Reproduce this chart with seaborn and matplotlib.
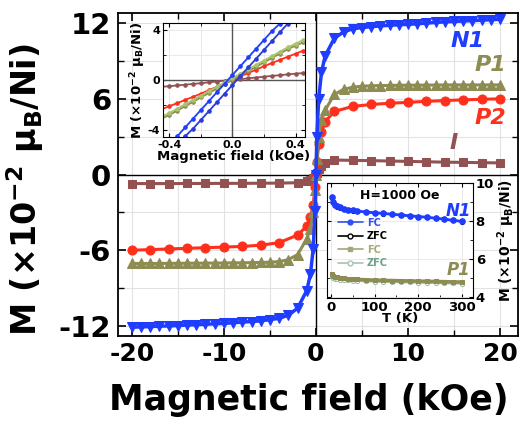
import matplotlib
matplotlib.use("Agg")
import matplotlib.pyplot as plt
from matplotlib.ticker import MultipleLocator, FormatStrFormatter
from matplotlib.lines import Line2D
import seaborn as sns

# ── data: main M(H) loops ─────────────────────────────────────────────────────
H_dense = [-20, -19, -18, -17, -16, -15, -14, -13, -12, -11, -10, -9, -8, -7, -6, -5, -4, -3, -2, -1,
           -0.6, -0.3, -0.1, 0, 0.1, 0.3, 0.6,
           1, 2, 3, 4, 5, 6, 7, 8, 9, 10, 11, 12, 13, 14, 15, 16, 17, 18, 19, 20]
M_N1 = [-12.1, -12.08, -12.05, -12.02, -12.0, -11.97, -11.93, -11.9, -11.87, -11.83, -11.8, -11.75,
        -11.7, -11.65, -11.6, -11.5, -11.4, -11.15, -10.6, -9.2, -7.9, -5.9, -2.9,
        0.0,
        3.0, 6.0, 8.1, 9.4, 10.8, 11.3, 11.55, 11.65, 11.72, 11.78, 11.83, 11.87, 11.9, 11.95,
        12.0, 12.05, 12.1, 12.13, 12.17, 12.2, 12.23, 12.27, 12.3]
M_P1 = [-7.05, -7.05, -7.05, -7.05, -7.04, -7.04, -7.03, -7.03, -7.02, -7.02, -7.01, -7.0, -7.0,
        -6.98, -6.97, -6.95, -6.9, -6.75, -6.35, -5.1, -4.3, -3.0, -1.2,
        0.0,
        1.2, 3.0, 4.3, 5.1, 6.35, 6.75, 6.92, 7.0, 7.03, 7.05, 7.06, 7.07, 7.08, 7.08, 7.09, 7.09,
        7.1, 7.1, 7.1, 7.1, 7.1, 7.1, 7.1]

H_sparse = [-20, -18, -16, -14, -12, -10, -8, -6, -4, -2, -1, -0.6, -0.3, -0.1, 0,
            0.1, 0.3, 0.6, 1, 2, 4, 6, 8, 10, 12, 14, 16, 18, 20]
M_P2 = [-6.0, -5.95, -5.9, -5.85, -5.8, -5.75, -5.7, -5.6, -5.4, -4.8, -4.1, -3.4, -2.4, -1.0,
        0.0,
        1.0, 2.4, 3.4, 4.2, 5.0, 5.4, 5.55, 5.65, 5.72, 5.8, 5.86, 5.92, 5.96, 6.0]
M_I = [-0.72, -0.72, -0.72, -0.71, -0.71, -0.7, -0.7, -0.69, -0.68, -0.65, -0.55, -0.42, -0.28, -0.12,
       0.0,
       0.15, 0.4, 0.7, 0.95, 1.15, 1.12, 1.1, 1.07, 1.04, 1.01, 0.98, 0.96, 0.94, 0.92]

# ── data: low-field inset ─────────────────────────────────────────────────────
H_low = [-0.45, -0.4, -0.35, -0.3, -0.25, -0.2, -0.15, -0.1, -0.05, 0.0,
         0.05, 0.1, 0.15, 0.2, 0.25, 0.3, 0.35, 0.4, 0.45]
N1_up = [-5.9, -5.2, -4.5, -3.8, -3.1, -2.4, -1.7, -1.0, -0.3, 0.4,
         1.1, 1.8, 2.5, 3.2, 3.9, 4.5, 5.1, 5.6, 6.1]
N1_down = [-6.1, -5.6, -5.1, -4.5, -3.9, -3.2, -2.5, -1.8, -1.1, -0.4,
           0.3, 1.0, 1.7, 2.4, 3.1, 3.8, 4.5, 5.2, 5.9]
P1_a = [-3.1, -2.8, -2.45, -2.1, -1.75, -1.4, -1.05, -0.7, -0.35, 0.0,
        0.35, 0.7, 1.05, 1.4, 1.75, 2.1, 2.45, 2.75, 3.0]
P1_b = [-2.95, -2.65, -2.3, -1.95, -1.6, -1.25, -0.9, -0.55, -0.2, 0.15,
        0.5, 0.85, 1.2, 1.55, 1.9, 2.25, 2.6, 2.9, 3.2]
P2_low = [-2.35, -2.1, -1.85, -1.6, -1.35, -1.1, -0.82, -0.55, -0.28, 0.0,
          0.28, 0.55, 0.82, 1.1, 1.35, 1.6, 1.85, 2.1, 2.35]
I_low = [-0.55, -0.5, -0.44, -0.38, -0.32, -0.26, -0.19, -0.13, -0.06, 0.0,
         0.06, 0.13, 0.19, 0.26, 0.32, 0.38, 0.44, 0.5, 0.55]

# ── data: M(T) inset, H = 1000 Oe ─────────────────────────────────────────────
T = [2, 5, 10, 15, 20, 30, 40, 50, 60, 80, 100, 120, 140, 160, 180, 200, 220, 240, 260, 280, 300]
N1_FC = [9.25, 9.0, 8.85, 8.77, 8.72, 8.65, 8.6, 8.56, 8.53, 8.48, 8.44, 8.4, 8.36, 8.32,
         8.28, 8.24, 8.2, 8.15, 8.1, 8.04, 7.98]
N1_ZFC = [9.2, 8.98, 8.84, 8.76, 8.71, 8.64, 8.59, 8.55, 8.52, 8.47, 8.43, 8.39, 8.35, 8.31,
          8.27, 8.23, 8.19, 8.14, 8.09, 8.03, 7.97]
P1_FC = [5.2, 5.12, 5.06, 5.03, 5.01, 4.98, 4.96, 4.94, 4.93, 4.91, 4.89, 4.88, 4.87, 4.86,
         4.85, 4.84, 4.83, 4.82, 4.81, 4.8, 4.79]
P1_ZFC = [5.08, 5.02, 4.97, 4.94, 4.92, 4.9, 4.88, 4.86, 4.85, 4.83, 4.81, 4.8, 4.79, 4.78,
          4.77, 4.76, 4.75, 4.74, 4.73, 4.72, 4.71]

BLUE, OLIVE, RED, BROWN = "#1f3dff", "#8d8c52", "#ff2f1c", "#935151"

# ── style ─────────────────────────────────────────────────────────────────────
sns.set_style("ticks")
plt.rcParams.update({
    "font.family": ["DejaVu Sans"],
    "font.weight": "bold",
    "axes.labelweight": "bold",
    "mathtext.default": "regular",
    "axes.unicode_minus": False,
    "text.color": "black", "axes.labelcolor": "black",
    "xtick.color": "black", "ytick.color": "black", "axes.edgecolor": "black",
    "xtick.direction": "in", "ytick.direction": "in",
    "xtick.top": True, "ytick.right": True,
})

fig = plt.figure(figsize=(5.21, 4.24), dpi=100)
ax = fig.add_axes([0.2265, 0.2075, 0.7678, 0.7618])

def curve(a, x, y, **kw):
    sns.lineplot(x=x, y=y, ax=a, sort=False, estimator=None, legend=False, **kw)

# ── main loops ────────────────────────────────────────────────────────────────
ax.axhline(0, color="black", lw=1.0, zorder=1)
ax.axvline(0, color="black", lw=1.0, zorder=1)
curve(ax, H_sparse, M_I, color=BROWN, marker="s", markersize=5.5, mec=BROWN, lw=2.2, zorder=3)
curve(ax, H_sparse, M_P2, color=RED, marker="o", markersize=6.5, mec=RED, lw=2.2, zorder=4)
curve(ax, H_dense, M_P1, color=OLIVE, marker="^", markersize=7, mec=OLIVE, lw=2.2, zorder=5)
curve(ax, H_dense, M_N1, color=BLUE, marker="v", markersize=7.5, mec=BLUE, lw=2.5, zorder=6)

ax.set_xlim(-21.5, 21.95)
ax.set_ylim(-12.8, 12.8)
ax.xaxis.set_major_locator(MultipleLocator(10))
ax.xaxis.set_minor_locator(MultipleLocator(5))
ax.yaxis.set_major_locator(MultipleLocator(6))
ax.yaxis.set_minor_locator(MultipleLocator(3))
ax.grid(which="both", color="#e2e2e2", lw=0.8)
ax.set_axisbelow(True)
ax.tick_params(axis="x", which="major", labelsize=18, length=6, width=1.2, pad=4)
ax.tick_params(axis="y", which="major", labelsize=21, length=6, width=1.2, pad=5)
ax.tick_params(which="minor", length=4, width=1.0, top=True, right=True)
for s in ax.spines.values():
    s.set_linewidth(1.3)
ax.set_xlabel("Magnetic field (kOe)", fontsize=25, fontweight="bold")
ax.set_ylabel("M (×10$^{-2}$ μ$_B$/Ni)", fontsize=24, fontweight="bold")
ax.xaxis.set_label_coords(0.478, -0.145)
ax.yaxis.set_label_coords(-0.18, 0.452)

lab = dict(fontsize=16, fontweight="bold", fontstyle="italic", ha="center", va="center")
ax.text(16.5, 10.6, "N1", color=BLUE, **lab)
ax.text(18.9, 8.65, "P1", color=OLIVE, **lab)
ax.text(18.9, 4.5, "P2", color=RED, **lab)
ax.text(15.0, 2.5, "I", color=BROWN, **lab)

# ── inset 1: low-field loops ──────────────────────────────────────────────────
ax1 = fig.add_axes([0.313, 0.677, 0.2725, 0.269])
ax1.set_facecolor("white")
ax1.axhline(0, color="#555555", lw=1.0, zorder=1)
ax1.axvline(0, color="#555555", lw=1.0, zorder=1)
small = dict(marker="o", markersize=2.5, lw=1.3)
curve(ax1, H_low, I_low, color=BROWN, mec=BROWN, **small)
curve(ax1, H_low, P2_low, color=RED, mec=RED, **small)
curve(ax1, H_low, P1_a, color=OLIVE, mec=OLIVE, **small)
curve(ax1, H_low, P1_b, color="#a9c46a", mec="#a9c46a", **small)
curve(ax1, H_low, N1_down, color="#2a3ad8", mec="#2a3ad8", **small)
curve(ax1, H_low, N1_up, color=BLUE, mec=BLUE, **small)
ax1.set_xlim(-0.44, 0.46)
ax1.set_ylim(-4.56, 4.56)
ax1.xaxis.set_major_locator(MultipleLocator(0.4))
ax1.xaxis.set_minor_locator(MultipleLocator(0.2))
ax1.yaxis.set_major_locator(MultipleLocator(4))
ax1.yaxis.set_minor_locator(MultipleLocator(2))
ax1.xaxis.set_major_formatter(FormatStrFormatter("%.1f"))
ax1.grid(which="both", color="#e6e6e6", lw=0.6)
ax1.tick_params(which="major", labelsize=8, length=3, width=0.8, pad=2)
ax1.tick_params(which="minor", length=2, width=0.6)
for s in ax1.spines.values():
    s.set_linewidth(0.8)
ax1.set_xlabel("Magnetic field (kOe)", fontsize=9.5, labelpad=0)
ax1.set_ylabel("M (×10$^{-2}$ μ$_B$/Ni)", fontsize=9.5, labelpad=0)

# ── inset 2: M(T) ─────────────────────────────────────────────────────────────
ax2 = fig.add_axes([0.6276, 0.2972, 0.28, 0.271])
ax2.set_facecolor("white")
curve(ax2, T, N1_ZFC, color="black", marker="o", markersize=3, mfc="white", mec="black", lw=1.0, zorder=2)
curve(ax2, T, N1_FC, color=BLUE, marker="o", markersize=4, mec=BLUE, lw=2.0, zorder=3)
curve(ax2, T, P1_ZFC, color="#9cc0a6", marker="o", markersize=3, mfc="white", mec="#9cc0a6", lw=1.5, zorder=2)
curve(ax2, T, P1_FC, color=OLIVE, marker="s", markersize=3.5, mec=OLIVE, lw=2.5, zorder=3)
ax2.set_xlim(-9, 325)
ax2.set_ylim(3.95, 10.0)
ax2.xaxis.set_major_locator(MultipleLocator(100))
ax2.xaxis.set_minor_locator(MultipleLocator(50))
ax2.yaxis.set_major_locator(MultipleLocator(2))
ax2.yaxis.set_minor_locator(MultipleLocator(1))
ax2.yaxis.tick_right()
ax2.yaxis.set_label_position("right")
ax2.tick_params(axis="both", which="both", left=True, right=True, top=True, bottom=True)
ax2.tick_params(which="major", labelsize=9.5, length=3, width=0.8, pad=2)
ax2.tick_params(which="minor", length=2, width=0.6)
ax2.grid(which="major", color="#e6e6e6", lw=0.6)
for s in ax2.spines.values():
    s.set_linewidth(0.8)
ax2.set_xlabel("T (K)", fontsize=9.5, labelpad=-1)
ax2.set_ylabel("M (×10$^{-2}$ μ$_B$/Ni)", fontsize=10, labelpad=1)
ax2.text(158, 9.37, "H=1000 Oe", fontsize=9, ha="center", va="center")
ax2.text(293, 8.53, "N1", color=BLUE, fontsize=12, fontstyle="italic", ha="center", va="center")
ax2.text(293, 5.42, "P1", color=OLIVE, fontsize=12, fontstyle="italic", ha="center", va="center")

handles = [
    Line2D([], [], color="#3050f0", marker="o", markersize=3.5, lw=1.2),
    Line2D([], [], color="black", marker="o", markersize=3.5, mfc="white", lw=1.2),
    Line2D([], [], color="#a6a676", marker="s", markersize=3, lw=1.2),
    Line2D([], [], color="#a8c4b0", marker="o", markersize=3.5, mfc="white", lw=1.2),
]
ax2.legend(handles, ["FC", "ZFC", "FC", "ZFC"], loc="upper left", bbox_to_anchor=(0.04, 0.74),
           frameon=False, fontsize=7, handlelength=2.6, handletextpad=0.4, labelspacing=0.35,
           borderpad=0, labelcolor=["#3050f0", "black", "#a8a878", "#6f9f8a"])

fig.savefig("out.png", dpi=100)
